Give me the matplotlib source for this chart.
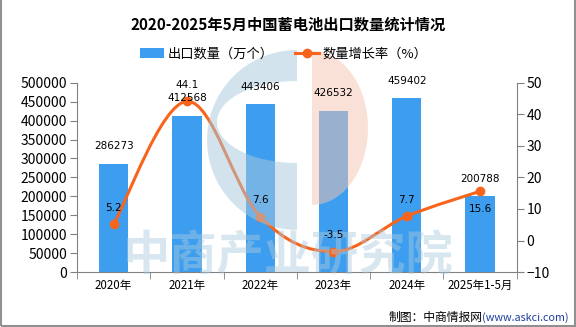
import numpy as np
import matplotlib.pyplot as plt
import matplotlib.transforms as mtransforms
from matplotlib.path import Path
from matplotlib.patches import PathPatch, Polygon, Rectangle, Patch
from matplotlib.lines import Line2D

plt.rcParams['font.family'] = ['Noto Sans CJK SC', 'DejaVu Sans']

categories = ['2020年', '2021年', '2022年', '2023年', '2024年', '2025年1-5月']
export_qty = [286273, 412568, 443406, 426532, 459402, 200788]
growth = [5.2, 44.1, 7.6, -3.5, 7.7, 15.6]

bar_color = '#3d9ef0'
line_color = '#f8641c'
axis_color = '#808080'
W, H = 576, 327


def smooth_path(xs, ys, t=0.35):
    # catmull-rom style bezier, like the chart's smooth line
    verts = [(xs[0], ys[0])]
    codes = [Path.MOVETO]
    n = len(xs)
    for i in range(n - 1):
        x0, y0 = (xs[i - 1], ys[i - 1]) if i > 0 else (xs[i], ys[i])
        x1, y1 = xs[i], ys[i]
        x2, y2 = xs[i + 1], ys[i + 1]
        x3, y3 = (xs[i + 2], ys[i + 2]) if i + 2 < n else (x2, y2)
        c1 = (x1 + (x2 - x0) * t / 2, y1 + (y2 - y0) * t / 2)
        c2 = (x2 - (x3 - x1) * t / 2, y2 - (y3 - y1) * t / 2)
        verts += [c1, c2, (x2, y2)]
        codes += [Path.CURVE4] * 3
    return Path(verts, codes)


def half_ellipse(cx, cy, rx, ry, t0, t1, n=60):
    t = np.radians(np.linspace(t0, t1, n))
    return np.column_stack([cx + rx * np.cos(t), cy - ry * np.sin(t)])


fig = plt.figure(figsize=(W / 100, H / 100), dpi=100)
ax = fig.add_axes([0.1337, 0.168, 0.7633, 0.579])
ax2 = ax.twinx()
# pixel coords from the top-left corner
pix = mtransforms.Affine2D().scale(1 / W, -1 / H).translate(0, 1) + fig.transFigure

x = np.arange(len(categories))
ax.bar(x, export_qty, width=0.4, color=bar_color, zorder=2)
for xi, v in zip(x, export_qty):
    ax2.annotate(str(v), (xi, v), xycoords=ax.transData, xytext=(0, 9),
                 textcoords='offset points', ha='center', va='bottom',
                 fontsize=7.5, family=['DejaVu Sans'], zorder=10)

ax.set_xlim(-0.5, len(categories) - 0.5)
ax.set_ylim(0, 500000)
ax.set_yticks(np.arange(0, 500001, 50000))
ax.set_xticks(x)
ax.set_xticklabels(categories, fontsize=8.3)
ax.set_xticks(np.arange(-0.5, len(categories), 1), minor=True)
ax.tick_params(axis='x', which='major', length=0, pad=5)
ax.tick_params(axis='x', which='minor', length=5, color=axis_color)
ax.tick_params(axis='y', labelsize=10, length=5, color=axis_color, pad=2)

ax2.set_ylim(-10, 50)
ax2.set_yticks(np.arange(-10, 51, 10))
ax2.tick_params(axis='y', labelsize=10, length=5, color=axis_color, pad=2)

for a in (ax, ax2):
    for s in a.spines.values():
        s.set_visible(False)
ax.spines['left'].set_visible(True)
ax.spines['bottom'].set_visible(True)
ax2.spines['right'].set_visible(True)
for s in (ax.spines['left'], ax.spines['bottom'], ax2.spines['right']):
    s.set_color(axis_color)

ax2.add_patch(PathPatch(smooth_path(list(x), growth), fill=False,
                        edgecolor=line_color, lw=2.2, zorder=3))
ax2.plot(x, growth, 'o', color=line_color, ms=6, zorder=3.2)
for i, (xi, g) in enumerate(zip(x, growth)):
    if i == len(growth) - 1:
        ax2.annotate(str(g), (xi, g), xytext=(0, -9), textcoords='offset points',
                     ha='center', va='top', fontsize=7.5, family=['DejaVu Sans'], zorder=10)
    else:
        ax2.annotate(str(g), (xi, g), xytext=(0, 8), textcoords='offset points',
                     ha='center', va='bottom', fontsize=7.5, family=['DejaVu Sans'], zorder=10)

# watermark logo and text (over bars and line, under labels)
outer = half_ellipse(297, 140, 90, 90, 90, 270)
hole = half_ellipse(297, 122, 80, 41, 270, 90)
verts = np.vstack([outer, outer[:1], hole, hole[:1]])
codes = ([Path.MOVETO] + [Path.LINETO] * (len(outer) - 1) + [Path.CLOSEPOLY]
         + [Path.MOVETO] + [Path.LINETO] * (len(hole) - 1) + [Path.CLOSEPOLY])
ax2.add_patch(PathPatch(Path(verts, codes), transform=pix, facecolor='#a9c9de',
                        alpha=0.5, lw=0, clip_on=False, zorder=4))
ax2.add_patch(Polygon(half_ellipse(312, 128, 56, 77, -90, 90), transform=pix,
                      facecolor='#f6c5b0', alpha=0.5, lw=0, clip_on=False, zorder=4))
ax2.text(288, 255, '中商产业研究院', transform=pix, ha='center', va='center',
         fontsize=34, fontweight='bold', color='#a9c9de', alpha=0.45,
         clip_on=False, zorder=4)

fig.text(0.5, 0.925, '2020-2025年5月中国蓄电池出口数量统计情况', ha='center', va='center',
         fontsize=11, fontweight='bold')

handles = [Patch(facecolor=bar_color, edgecolor='none'),
           Line2D([0], [0], color=line_color, lw=2.2, marker='o', ms=6)]
fig.legend(handles, ['出口数量（万个）', '数量增长率（%）'], loc='center',
           bbox_to_anchor=(0.493, 0.835), ncol=2, frameon=False, fontsize=9.5,
           handlelength=1.8, handleheight=0.8, columnspacing=1.6, handletextpad=0.3)

fig.text(0.837, 0.03, '制图：中商情报网', ha='right', va='center', fontsize=8.5)
fig.text(0.837, 0.03, '(www.askci.com)', ha='left', va='center', fontsize=7.8,
         color='#1f3f9f')

fig.add_artist(Rectangle((0.001, 0.002), 0.997, 1.2, transform=fig.transFigure,
                         fill=False, edgecolor='#909090', lw=1.5))

fig.savefig('out.png', dpi=100)
